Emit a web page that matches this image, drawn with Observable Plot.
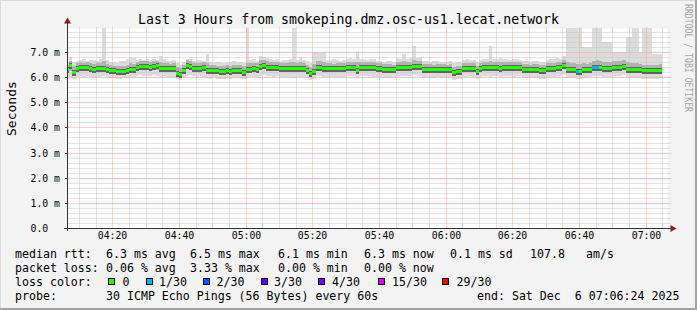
<!DOCTYPE html>
<html><head><meta charset="utf-8">
<script src="https://cdn.jsdelivr.net/npm/d3@7"></script>
<script src="https://cdn.jsdelivr.net/npm/@observablehq/plot@0.6"></script>
<style>
html,body{margin:0;padding:0;background:#f3f3f3;}
#wrap{position:relative;width:697px;height:310px;background:#f3f3f3;overflow:hidden;font-family:"DejaVu Sans Mono",monospace;color:#000;}
#chart{position:absolute;left:0;top:0;}
.t{position:absolute;white-space:pre;font-size:11.6px;line-height:14px;}
.box{position:absolute;width:5px;height:5px;border:1px solid #000;}
#title{position:absolute;left:0;width:697px;top:12px;text-align:center;font-size:13.2px;line-height:16px;white-space:pre;}
.edge{position:absolute;}
</style></head>
<body>
<div id="wrap">
  <div id="chart"></div>
  <div id="title"></div>
  <div id="legend"></div>
  <div class="edge" style="left:0;top:0;width:697px;height:1px;background:#dadada"></div>
  <div class="edge" style="left:0;top:0;width:1px;height:310px;background:#dadada"></div>
  <div class="edge" style="left:695px;top:0;width:2px;height:310px;background:#a3a3a3"></div>
  <div class="edge" style="left:0;top:308px;width:697px;height:2px;background:#a3a3a3"></div>
</div>
<script>
// ---- data (one value per 60 s step, starting 04:06) ----
const title = "Last 3 Hours from smokeping.dmz.osc-us1.lecat.network";
const median = [
6.31,6.48,6.20,6.38,6.40,6.40,6.41,6.38,6.32,6.35,
6.35,6.36,6.34,6.28,6.28,6.24,6.24,6.26,6.30,6.32,
6.32,6.42,6.44,6.44,6.44,6.42,6.44,6.47,6.36,6.37,
6.36,6.35,6.36,6.17,6.12,6.30,6.48,6.46,6.38,6.38,
6.37,6.39,6.30,6.28,6.28,6.27,6.26,6.25,6.27,6.26,
6.28,6.30,6.28,6.22,6.33,6.34,6.35,6.33,6.46,6.50,
6.42,6.41,6.40,6.42,6.37,6.36,6.36,6.38,6.35,6.36,
6.37,6.35,6.30,6.18,6.25,6.40,6.41,6.38,6.36,6.36,
6.35,6.37,6.36,6.36,6.40,6.40,6.41,6.30,6.40,6.40,
6.40,6.41,6.39,6.37,6.36,6.33,6.32,6.32,6.31,6.40,
6.40,6.41,6.40,6.40,6.44,6.45,6.43,6.32,6.33,6.32,
6.31,6.33,6.32,6.32,6.31,6.33,6.22,6.26,6.26,6.35,
6.36,6.37,6.36,6.25,6.36,6.40,6.40,6.39,6.41,6.40,
6.38,6.40,6.41,6.40,6.40,6.40,6.39,6.33,6.32,6.31,
6.32,6.33,6.28,6.28,6.36,6.36,6.37,6.40,6.41,6.50,
6.32,6.32,6.33,6.26,6.26,6.32,6.32,6.33,6.40,6.40,
6.40,6.36,6.36,6.35,6.40,6.40,6.41,6.46,6.32,6.32,
6.31,6.33,6.32,6.28,6.28,6.27,6.28,6.28,6.30];
const lossSteps = [153,158,159];   // steps with 1/30 loss
const lossCount = [1,1,1];
const pingMax = [
6.62,6.80,6.60,6.66,6.70,6.72,6.64,6.68,6.70,6.66,
6.74,8.10,6.68,6.62,6.60,6.58,6.64,6.66,6.72,6.80,
6.76,6.70,6.74,6.70,6.72,6.68,6.74,6.70,6.84,6.72,
6.66,6.64,6.70,6.56,6.50,6.62,6.74,6.72,6.66,6.68,
6.70,6.66,6.92,6.60,6.58,6.62,6.60,6.56,6.60,6.62,
6.64,6.60,6.62,6.58,8.10,6.70,6.72,6.66,6.84,6.80,
6.78,6.74,6.70,6.72,6.66,6.70,6.68,6.72,8.10,6.70,
6.80,6.68,6.64,6.56,7.00,7.02,6.98,7.00,6.70,6.68,
6.72,6.70,6.66,6.68,6.74,6.76,6.72,7.04,6.74,6.72,
6.70,6.74,6.72,6.66,6.64,6.62,6.66,6.64,6.62,6.76,
6.74,6.92,6.72,6.76,7.24,6.78,6.76,6.66,6.64,6.62,
6.64,6.66,6.62,6.60,6.62,6.66,6.56,6.60,6.62,6.70,
6.72,6.70,6.68,6.60,6.70,6.74,6.72,7.24,6.74,6.72,
6.76,6.72,6.74,6.70,6.72,6.74,6.70,6.66,6.64,6.62,
6.64,6.66,6.60,6.62,6.70,6.72,6.74,6.76,6.74,6.84,
8.10,8.10,8.10,8.10,8.10,7.20,7.20,7.20,8.10,8.10,
8.10,7.40,7.40,7.40,7.00,7.00,7.00,7.00,7.60,7.60,
8.10,8.10,7.00,8.10,8.10,8.10,6.92,6.92,6.92];
const pingMin = [
5.97,5.99,5.93,6.01,6.03,6.01,6.03,5.99,5.97,6.01,
5.99,6.03,6.01,5.95,5.97,5.93,5.91,5.95,5.97,5.99,
6.01,6.05,6.07,6.05,6.03,6.05,6.07,6.05,6.01,6.03,
5.99,6.01,5.99,5.91,5.89,5.95,6.05,6.07,6.03,6.01,
6.03,6.01,5.97,5.93,5.95,5.93,5.91,5.93,5.95,5.93,
5.95,5.97,5.95,5.91,5.97,5.99,6.01,5.99,6.05,6.09,
6.05,6.03,6.01,6.05,5.99,6.01,5.99,6.01,5.97,5.99,
6.01,5.99,5.95,5.89,5.93,6.03,6.05,6.01,5.99,6.01,
5.99,6.01,5.99,6.01,6.03,6.05,6.03,5.95,6.03,6.05,
6.03,6.05,6.01,5.99,6.01,5.97,5.95,5.97,5.95,6.03,
6.05,6.03,6.05,6.03,6.07,6.05,6.05,5.97,5.99,5.95,
5.97,5.99,5.95,5.97,5.95,5.99,5.89,5.93,5.93,5.99,
6.01,6.03,5.99,5.91,5.99,6.03,6.05,6.01,6.03,6.05,
6.01,6.03,6.05,6.03,6.01,6.05,6.03,5.97,5.95,5.95,
5.97,5.97,5.93,5.93,5.99,6.01,5.99,6.03,6.05,6.09,
5.97,5.95,5.97,5.91,5.93,5.97,5.95,5.99,6.03,6.05,
6.03,6.01,5.99,5.99,6.03,6.05,6.03,6.07,5.95,5.97,
5.95,5.97,5.95,5.93,5.93,5.91,5.93,5.93,5.95];
const pingLow = [
6.16,6.24,6.08,6.22,6.24,6.24,6.26,6.22,6.18,6.20,
6.20,6.22,6.18,6.14,6.14,6.10,6.10,6.12,6.16,6.18,
6.18,6.26,6.28,6.28,6.28,6.26,6.28,6.30,6.20,6.22,
6.20,6.20,6.20,6.04,6.02,6.14,6.32,6.30,6.22,6.22,
6.22,6.24,6.16,6.12,6.14,6.12,6.12,6.10,6.12,6.12,
6.14,6.16,6.14,6.08,6.18,6.20,6.20,6.18,6.30,6.34,
6.26,6.26,6.24,6.26,6.22,6.20,6.20,6.22,6.20,6.20,
6.22,6.20,6.14,6.04,6.10,6.24,6.26,6.22,6.20,6.22,
6.20,6.22,6.20,6.22,6.24,6.24,6.26,6.16,6.24,6.26,
6.24,6.26,6.24,6.22,6.20,6.18,6.16,6.18,6.16,6.24,
6.26,6.26,6.24,6.24,6.28,6.30,6.28,6.18,6.18,6.16,
6.16,6.18,6.18,6.16,6.16,6.18,6.08,6.12,6.12,6.20,
6.22,6.22,6.20,6.10,6.20,6.24,6.26,6.24,6.26,6.24,
6.22,6.24,6.26,6.24,6.24,6.26,6.24,6.18,6.16,6.16,
6.16,6.18,6.12,6.14,6.20,6.22,6.22,6.24,6.26,6.34,
6.16,6.16,6.18,6.10,6.10,6.18,6.16,6.18,6.24,6.26,
6.24,6.20,6.22,6.20,6.24,6.26,6.26,6.30,6.16,6.18,
6.16,6.18,6.16,6.12,6.14,6.12,6.14,6.12,6.16];
const pingHigh = [
6.50,6.66,6.44,6.56,6.60,6.58,6.60,6.56,6.52,6.56,
6.58,6.64,6.54,6.48,6.46,6.44,6.44,6.46,6.50,6.56,
6.54,6.62,6.64,6.66,6.64,6.62,6.66,6.66,6.60,6.58,
6.56,6.54,6.56,6.40,6.36,6.50,6.68,6.66,6.58,6.58,
6.56,6.60,6.56,6.48,6.48,6.46,6.46,6.44,6.48,6.46,
6.48,6.50,6.48,6.44,6.58,6.56,6.56,6.58,6.68,6.70,
6.64,6.62,6.60,6.62,6.58,6.56,6.56,6.60,6.62,6.56,
6.60,6.56,6.50,6.40,6.52,6.64,6.64,6.62,6.56,6.56,
6.54,6.58,6.56,6.56,6.60,6.62,6.62,6.60,6.60,6.62,
6.60,6.62,6.60,6.58,6.56,6.54,6.52,6.52,6.50,6.62,
6.62,6.66,6.60,6.62,6.68,6.66,6.64,6.52,6.54,6.52,
6.50,6.54,6.52,6.52,6.50,6.54,6.42,6.46,6.46,6.56,
6.56,6.58,6.56,6.46,6.56,6.60,6.62,6.64,6.62,6.60,
6.62,6.60,6.62,6.60,6.60,6.62,6.60,6.54,6.52,6.50,
6.52,6.54,6.48,6.48,6.56,6.58,6.58,6.62,6.62,6.70,
6.60,6.58,6.56,6.52,6.54,6.56,6.54,6.58,6.66,6.68,
6.66,6.62,6.60,6.60,6.64,6.64,6.66,6.70,6.60,6.58,
6.58,6.56,6.54,6.50,6.50,6.48,6.50,6.50,6.52];
const yTicks = [0,1,2,3,4,5,6,7];
const xTickLabels = ["04:20","04:40","05:00","05:20","05:40","06:00","06:20","06:40","07:00"];
const lossLevels = [0,1,2,3,4,15,29];
const lossLabels = ["0","1/30","2/30","3/30","4/30","15/30","29/30"];
const lossColors = ["#26ff00","#00b8ff","#0059ff","#5e00ff","#7e00ff","#dd00ff","#ff0000"];
const statsRtt = ["6.3 ms avg","6.5 ms max","6.1 ms min","6.3 ms now","0.1 ms sd","107.8","am/s"];
const statsLoss = ["0.06 % avg","3.33 % max","0.00 % min","0.00 % now"];
const probeText = "30 ICMP Echo Pings (56 Bytes) every 60s";
const endText = "end: Sat Dec  6 07:06:24 2025";

// ---- build table ----
const stepStart = Date.UTC(2025,11,6,4,6,0);
const start = new Date(Date.UTC(2025,11,6,4,6,24));
const end = new Date(Date.UTC(2025,11,6,7,6,24));
const colorOf = n => lossColors[lossLevels.indexOf(n)];
const rows = median.map((m,i) => {
  const k = lossSteps.indexOf(i);
  return {t0:new Date(stepStart+i*60000), t1:new Date(stepStart+(i+1)*60000),
    med:m, lo:pingMin[i], hi:pingMax[i], ql:pingLow[i], qh:pingHigh[i],
    loss: k>=0 ? lossCount[k] : 0};
});
const xMajor = xTickLabels.map(s => new Date(`2025-12-06T${s}:00Z`));
const xMinor = d3.utcMinute.every(5).range(start, end).filter(d => d.getUTCMinutes()%20 !== 0);
const yMinor = d3.range(1, 40).map(k => k/5).filter(v => Math.abs(v-Math.round(v))>1e-6);
const yMajor = yTicks.filter(v => v>0);
const crisp = {shapeRendering:"crispEdges"};
const dotted = {strokeWidth:1, strokeDasharray:"1 1", strokeDashoffset:0.5};

const chart = Plot.plot({
  width: 697, height: 310,
  marginLeft: 67, marginRight: 30, marginTop: 28, marginBottom: 82,
  x: {type:"utc", domain:[start,end], round:true},
  y: {domain:[0, 7.955], round:true},
  color: {type:"identity"},
  style: {background:"transparent", fontFamily:"'DejaVu Sans Mono', monospace", fontSize:"9.8px", color:"#000", overflow:"visible"},
  marks: [
    Plot.frame({fill:"#ffffff", stroke:null}),
    Plot.rect(rows, {x1:"t0", x2:"t1", y1:"lo", y2:"hi", fill:"#dcdcdc", clip:true, ...crisp}),
    Plot.ruleY(yMinor, {y:d=>d, stroke:"#c6c6c6", ...dotted, insetRight:-4}),
    Plot.ruleX(xMinor, {x:d=>d, stroke:"#c6c6c6", ...dotted, insetTop:-1}),
    Plot.ruleY(yMajor, {y:d=>d, stroke:"#ffa0a0", ...dotted, insetRight:-4}),
    Plot.ruleX(xMajor, {x:d=>d, stroke:"#ffa0a0", ...dotted, insetTop:-1}),
    Plot.rect(rows, {x1:"t0", x2:"t1", y1:"ql", y2:"qh", fill:"#b2b2b2", clip:true, ...crisp}),
    Plot.ruleY(rows, {y:"med", x1:"t0", x2:"t1", stroke:"#626262", strokeWidth:6, clip:true, ...crisp}),
    Plot.ruleY(rows, {y:"med", x1:"t0", x2:"t1", stroke:d => colorOf(d.loss), strokeWidth:3, clip:true, ...crisp}),
    Plot.ruleX([start], {stroke:"#333", insetTop:-6, insetBottom:-3}),
    Plot.ruleY([0], {stroke:"#333", insetLeft:-3, insetRight:-4}),
    Plot.dot([start], {x:d=>d, frameAnchor:"top", symbol:"triangle", r:2.6, dy:-7, fill:"#8b1c1c", stroke:null}),
    Plot.dot([0], {y:d=>d, frameAnchor:"right", symbol:"triangle", r:2.6, rotate:90, dx:5, fill:"#8b1c1c", stroke:null}),
    Plot.axisY({ticks:yMajor, tickSize:2, tickFormat:()=>"", stroke:"#333"}),
    Plot.axisY({ticks:yTicks, tickSize:0, tickPadding:0, textAnchor:"start", dx:-37, fill:"#000",
      tickFormat: d => d===0 ? "0.0" : d.toFixed(1)+" m"}),
    Plot.axisX({ticks:xMajor, tickSize:0, tickPadding:4, fill:"#000", tickFormat: d3.utcFormat("%H:%M")}),
    Plot.text(["Seconds"], {frameAnchor:"left", text:d=>d, rotate:-90, dx:-56, dy:7.5, fontSize:13, fill:"#000"})
  ]
});
document.getElementById("chart").appendChild(chart);
document.getElementById("title").textContent = title;

// ---- legend ----
const L = document.getElementById("legend");
function put(txt, x, y){ const d=document.createElement("div"); d.className="t"; d.style.left=x+"px"; d.style.top=y+"px"; d.textContent=txt; L.appendChild(d); }
const rowY = [247, 261, 275, 289];
put("median rtt:", 15, rowY[0]);
[106,190,278,364,450,530,586].forEach((x,i)=>put(statsRtt[i], x, rowY[0]));
put("packet loss:", 15, rowY[1]);
[106,190,278,364].forEach((x,i)=>put(statsLoss[i], x, rowY[1]));
put("loss color:", 15, rowY[2]);
const boxX = [108,145.5,203,260.5,318,377.5,442];
const labX = [122.5,159,216.5,274,332,392,456.5];
lossLevels.forEach((n,i)=>{
  const b=document.createElement("div"); b.className="box";
  b.style.left=boxX[i]+"px"; b.style.top="278px"; b.style.background=lossColors[i]; L.appendChild(b);
  put(lossLabels[i], labX[i], rowY[2]);
});
put("probe:", 15, rowY[3]);
put(probeText, 106, rowY[3]);
put(endText, 477, rowY[3]);

// ---- watermark ----
const ns="http://www.w3.org/2000/svg";
const wm=document.createElementNS(ns,"svg");
wm.setAttribute("width","12"); wm.setAttribute("height","118");
wm.style.position="absolute"; wm.style.left="682px"; wm.style.top="2px"; wm.style.overflow="visible";
const tx=document.createElementNS(ns,"text");
tx.setAttribute("transform","translate(2.5,2) rotate(90)");
tx.setAttribute("textLength","108"); tx.setAttribute("lengthAdjust","spacingAndGlyphs");
tx.setAttribute("font-family","DejaVu Sans Mono"); tx.setAttribute("font-size","10.5");
tx.setAttribute("fill","#a6a6a6");
tx.textContent="RRDTOOL / TOBI OETIKER";
wm.appendChild(tx);
document.getElementById("wrap").appendChild(wm);
</script>
</body></html>
